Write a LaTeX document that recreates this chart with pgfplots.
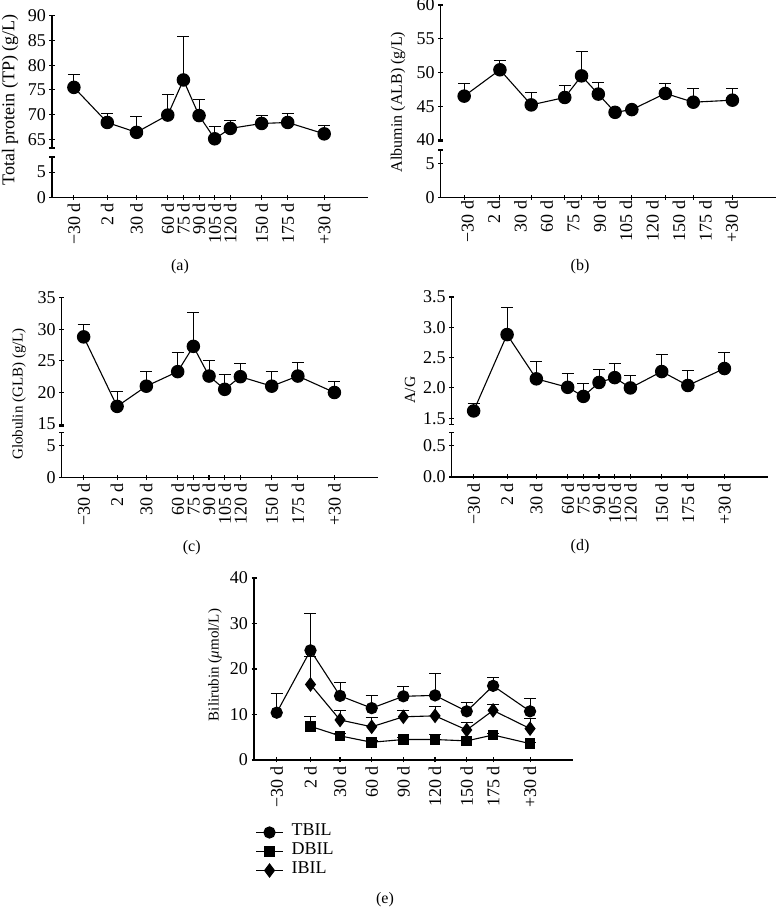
\documentclass[border=0pt]{standalone}
\usepackage{fontspec}
\setmainfont{Liberation Serif}
\usepackage{pgfplots}
\pgfplotsset{compat=1.18}
\newcommand\fs{\fontsize{18}{21}\selectfont}

\pgfplotsset{
  noarrow/.style={axis line style={-}, x axis line style={-}, y axis line style={-},
    every outer x axis line/.append style={-}, every outer y axis line/.append style={-},
    every inner x axis line/.append style={-}, every inner y axis line/.append style={-}},
  brk/.style={scale only axis, anchor=south west, clip=false,
    axis line style={line width=1.1pt}, tick align=outside,
    major tick length=5pt, every tick/.style={black, line width=1.1pt},
    tick label style={font=\fs}, /pgf/number format/assume math mode=true,
    xmin=-51, xmax=252},
  up/.style={brk, axis y line=left, axis x line=none, noarrow},
  low/.style={brk, axis y line=left, axis x line=bottom, noarrow,
    xtick={-30,2,30,60,75,90,105,120,150,175,210},
    xticklabels={−30 d,2 d,30 d,60 d,75 d,90 d,105 d,120 d,150 d,175 d,+30 d},
    xticklabel style={rotate=90, anchor=east}},
  dat/.style={black, line width=1.1pt, mark=*, mark size=6.2pt,
    mark options={solid, fill=black},
    error bars/y dir=plus, error bars/y explicit,
    error bars/error bar style={line width=1pt},
    error bars/error mark options={rotate=90, black, line width=1pt, mark size=6pt}},
}

\begin{document}
\begin{tikzpicture}
\path[use as bounding box] (0pt,0pt) rectangle (777pt,910pt);

% (a) total protein
\begin{axis}[up, at={(52pt,762pt)}, width=316pt, height=132.3pt,
  ymin=63.24, ymax=90, ytick={65,70,...,90}, extra y ticks={63.24}, extra y tick labels={}]
\addplot+[dat] table[x=x, y=y, y error=e] {
x y e
-30 75.5 2.7
2 68.4 1.9
30 66.4 3.3
60 69.9 4.2
75 77.0 8.8
90 69.8 3.2
105 65.1 2.4
120 67.2 1.5
150 68.2 1.6
175 68.4 1.8
210 66.1 1.7
};
\end{axis}
\begin{axis}[low, at={(52pt,712.7pt)}, width=316pt, height=40.3pt,
  ymin=0, ymax=8, ytick={0,5}, extra y ticks={8}, extra y tick labels={}]
\end{axis}

% (b) albumin
\begin{axis}[up, at={(440.7pt,768.3pt)}, width=335.3pt, height=136.7pt, xmax=249,
  ymin=39.75, ymax=60, ytick={40,45,...,60}, extra y ticks={39.75}, extra y tick labels={}]
\addplot+[dat] table[x=x, y=y, y error=e] {
x y e
-30 46.5 1.9
2 50.4 1.4
30 45.2 1.9
60 46.3 1.8
75 49.5 3.6
90 46.8 1.7
105 44.1 0.3
120 44.5 0.3
150 46.9 1.4
175 45.6 2.1
210 45.9 1.7
};
\end{axis}
\begin{axis}[brk, axis y line=left, axis x line=bottom, noarrow, at={(440.7pt,712.7pt)},
  width=335.3pt, height=47.3pt, xmax=249,
  ymin=0, ymax=7, ytick={0,5}, extra y ticks={7}, extra y tick labels={},
  xtick={-30,2,30,60,75,90,120,150,175,210}, xticklabels={},
  extra x ticks={-27,-3.4,20.3,43.9,67.6,91.2,114.8,138.5,162.1,185.8,209.4},
  extra x tick labels={−30 d,2 d,30 d,60 d,75 d,90 d,105 d,120 d,150 d,175 d,+30 d},
  extra x tick style={major tick length=0pt},
  xticklabel style={rotate=90, anchor=east}]
\end{axis}

% (c) globulin
\begin{axis}[up, at={(61.7pt,484pt)}, width=316.6pt, height=128.3pt,
  ymin=14.7, ymax=35, ytick={15,20,...,35}, extra y ticks={14.7}, extra y tick labels={}]
\addplot+[dat] table[x=x, y=y, y error=e] {
x y e
-30 28.8 1.9
2 17.8 2.4
30 21.0 2.4
60 23.3 3.1
75 27.3 5.4
90 22.6 2.4
105 20.5 2.4
120 22.5 2.1
150 21.0 2.4
175 22.6 2.1
210 20.0 1.8
};
\end{axis}
\begin{axis}[low, at={(61.7pt,432.3pt)}, width=316.6pt, height=45pt,
  ymin=0, ymax=7, ytick={0,5}, extra y ticks={7}, extra y tick labels={}]
\end{axis}

% (d) A/G
\begin{axis}[up, at={(451.7pt,485.7pt)}, width=316.6pt, height=127.3pt,
  ymin=1.4, ymax=3.5, ytick={1.5,2,...,3.5}, extra y ticks={1.4}, extra y tick labels={},
  yticklabel style={/pgf/number format/.cd, fixed, fixed zerofill, precision=1}]
\addplot+[dat] table[x=x, y=y, y error=e] {
x y e
-30 1.62 0.13
2 2.88 0.44
30 2.15 0.28
60 2.01 0.22
75 1.86 0.21
90 2.09 0.21
105 2.17 0.23
120 2.00 0.20
150 2.27 0.28
175 2.04 0.24
210 2.32 0.26
};
\end{axis}
\begin{axis}[low, at={(451.7pt,433pt)}, width=316.6pt, height=44.3pt,
  ymin=0, ymax=0.7, ytick={0,0.5}, extra y ticks={0.7}, extra y tick labels={},
  yticklabel style={/pgf/number format/.cd, fixed, fixed zerofill, precision=1}]
\end{axis}

% (e) bilirubin
\begin{axis}[brk, axis y line=left, axis x line=bottom, noarrow, at={(254pt,150pt)},
  width=318.7pt, height=182pt, xmin=-51.5, xmax=250.4,
  ymin=0, ymax=40, ytick={0,10,...,40},
  xtick={-30,2,30,60,90,120,150,175,210},
  xticklabels={−30 d,2 d,30 d,60 d,90 d,120 d,150 d,175 d,+30 d},
  xticklabel style={rotate=90, anchor=east},
  legend style={at={(0.004,-0.345)}, anchor=north west, draw=none, fill=none,
    font=\fs, inner sep=0pt, row sep=0pt, column sep=8pt,
    nodes={inner sep=0pt, text height=13pt, text depth=6pt},
    cells={anchor=west}},
  legend image code/.code={\draw[#1, mark repeat=2, mark phase=2]
    plot coordinates {(0pt,0pt) (13.5pt,0pt) (27pt,0pt)};}]
\addplot+[dat, mark size=5.6pt] table[x=x, y=y, y error=e] {
x y e
-30 10.4 4.2
2 24.1 8.2
30 14.1 3.0
60 11.4 2.8
90 14.0 2.2
120 14.2 4.9
150 10.7 1.9
175 16.3 1.9
210 10.7 2.9
};
\addlegendentry{TBIL}
\addplot+[dat, mark=square*, mark size=4.8pt] table[x=x, y=y, y error=e] {
x y e
2 7.4 2.1
30 5.3 0.5
60 3.9 0.3
90 4.5 0.4
120 4.5 1.2
150 4.2 0.3
175 5.5 0.4
210 3.6 0.3
};
\addlegendentry{DBIL}
\addplot+[dat, mark=diamond*, mark size=6.5pt] table[x=x, y=y, y error=e] {
x y e
2 16.6 6.2
30 8.8 2.1
60 7.3 2.0
90 9.5 1.4
120 9.7 2.0
150 6.6 1.6
175 10.9 1.4
210 6.9 2.2
};
\addlegendentry{IBIL}
\end{axis}

% axis titles and panel letters
\node[rotate=90, font=\fontsize{18}{21}\selectfont] at (10pt,810pt) {Total protein (TP) (g/L)};
\node[rotate=90, font=\fontsize{16}{19}\selectfont] at (398pt,808pt) {Albumin (ALB) (g/L)};
\node[rotate=90, font=\fontsize{15}{18}\selectfont] at (19pt,516pt) {Globulin (GLB) (g/L)};
\node[rotate=90, font=\fontsize{15.5}{18}\selectfont] at (410pt,520pt) {A/G};
\node[rotate=90, font=\fontsize{15}{18}\selectfont] at (215pt,245pt) {Bilirubin (\textit{μ}mol/L)};
\node[font=\fontsize{16}{19}\selectfont] at (180pt,643pt) {(a)};
\node[font=\fontsize{16}{19}\selectfont] at (580pt,643pt) {(b)};
\node[font=\fontsize{16}{19}\selectfont] at (191.7pt,362pt) {(c)};
\node[font=\fontsize{16}{19}\selectfont] at (580pt,363.3pt) {(d)};
\node[font=\fontsize{16}{19}\selectfont] at (385pt,10pt) {(e)};
\end{tikzpicture}
\end{document}
